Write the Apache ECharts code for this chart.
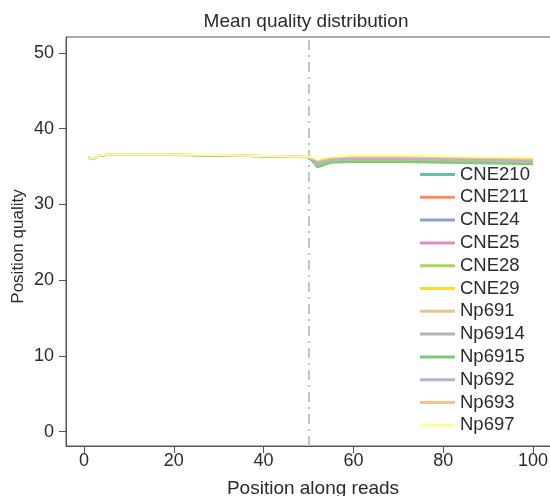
<!DOCTYPE html>
<html>
<head>
<meta charset="utf-8">
<script src="https://cdn.jsdelivr.net/npm/echarts@6/dist/echarts.min.js"></script>
<style>
  html, body { margin: 0; padding: 0; background: #fff; }
  #chart { width: 550px; height: 496px; }
</style>
</head>
<body>
<div id="chart"></div>
<script>
const positions = [1, 2, 3, 5, 10, 20, 30, 40, 50, 51, 52, 53, 55, 60, 70, 80, 90, 100];
const xTicks = [0, 20, 40, 60, 80, 100];
const yTicks = [0, 10, 20, 30, 40, 50];

const sampleNames = ["CNE210", "CNE211", "CNE24", "CNE25", "CNE28", "CNE29",
  "Np691", "Np6914", "Np6915", "Np692", "Np693", "Np697"];
const sampleColors = ["#66C2A5", "#FC8D62", "#8DA0CB", "#E78AC3", "#A6D854", "#FFD92F",
  "#E5C494", "#B3B3B3", "#7FC97F", "#BEAED4", "#FDC086", "#FFFF99"];

const CNE210 = [36.18, 35.98, 36.38, 36.53, 36.58, 36.53, 36.46, 36.35, 36.23, 35.7, 35.1, 35.3, 35.65, 35.75, 35.75, 35.65, 35.55, 35.45];
const CNE211 = [36.22, 36.02, 36.42, 36.57, 36.62, 36.57, 36.5, 36.39, 36.27, 35.95, 35.55, 35.75, 36.0, 36.15, 36.15, 36.05, 35.95, 35.85];
const CNE24  = [36.19, 35.99, 36.39, 36.54, 36.59, 36.54, 36.47, 36.36, 36.24, 35.8, 35.3, 35.5, 35.8, 35.95, 35.95, 35.85, 35.75, 35.65];
const CNE25  = [36.21, 36.01, 36.41, 36.56, 36.61, 36.56, 36.49, 36.38, 36.26, 35.9, 35.5, 35.7, 35.95, 36.1, 36.1, 36.0, 35.9, 35.8];
const CNE28  = [36.19, 35.99, 36.39, 36.54, 36.59, 36.54, 36.47, 36.36, 36.24, 35.75, 35.2, 35.4, 35.7, 35.85, 35.85, 35.75, 35.65, 35.55];
const CNE29  = [36.22, 36.02, 36.42, 36.57, 36.62, 36.57, 36.5, 36.39, 36.27, 36.05, 35.7, 35.9, 36.1, 36.25, 36.25, 36.15, 36.05, 35.95];
const Np691  = [36.21, 36.01, 36.41, 36.56, 36.61, 36.56, 36.49, 36.38, 36.26, 36.0, 35.6, 35.8, 36.05, 36.2, 36.2, 36.1, 36.0, 35.9];
const Np6914 = [36.2, 36.0, 36.4, 36.55, 36.6, 36.55, 36.48, 36.37, 36.25, 35.85, 35.4, 35.6, 35.85, 36.0, 36.0, 35.9, 35.8, 35.7];
const Np6915 = [36.17, 35.97, 36.37, 36.52, 36.57, 36.52, 36.45, 36.34, 36.22, 35.6, 34.9, 35.1, 35.5, 35.6, 35.6, 35.5, 35.4, 35.3];
const Np692  = [36.2, 36.0, 36.4, 36.55, 36.6, 36.55, 36.48, 36.37, 36.25, 35.88, 35.45, 35.65, 35.9, 36.05, 36.05, 35.95, 35.85, 35.75];
const Np693  = [36.22, 36.02, 36.42, 36.57, 36.62, 36.57, 36.5, 36.39, 36.27, 36.1, 35.8, 36.0, 36.2, 36.35, 36.35, 36.25, 36.15, 36.05];
const Np697  = [36.23, 36.03, 36.43, 36.59, 36.63, 36.58, 36.51, 36.4, 36.28, 36.15, 35.9, 36.1, 36.3, 36.45, 36.45, 36.35, 36.25, 36.2];

const sampleValues = [CNE210, CNE211, CNE24, CNE25, CNE28, CNE29, Np691, Np6914, Np6915, Np692, Np693, Np697];

const FONT = "Liberation Sans, Arial, sans-serif";
const AXIS_COLOR = "#555";
const TEXT_COLOR = "#2b2b2b";

const chart = echarts.init(document.getElementById("chart"));

const series = sampleNames.map((name, i) => {
  const s = {
    name: name,
    type: "line",
    symbol: "none",
    data: positions.map((p, k) => [p, sampleValues[i][k]]),
    lineStyle: { width: 2, color: sampleColors[i] },
    itemStyle: { color: sampleColors[i] },
    emphasis: { disabled: true },
    z: 2 + i
  };
  if (i === 0) {
    // read 1 / read 2 boundary
    s.markLine = {
      silent: true,
      symbol: "none",
      label: { show: false },
      lineStyle: { color: "#c4c4c4", width: 2, type: [10, 5, 2, 5] },
      data: [{ xAxis: 50 }],
      z: 1
    };
  }
  return s;
});

const option = {
  backgroundColor: "#fff",
  animation: false,
  textStyle: { fontFamily: FONT },
  title: {
    text: "Mean quality distribution",
    left: 301,
    textAlign: "center",
    top: 7,
    textStyle: { fontFamily: FONT, fontSize: 19, fontWeight: "normal", color: TEXT_COLOR }
  },
  legend: {
    orient: "vertical",
    left: 420,
    top: 165,
    padding: 0,
    icon: "rect",
    itemWidth: 35,
    itemHeight: 3,
    itemGap: 3.8,
    textStyle: { fontFamily: FONT, fontSize: 18.5, color: TEXT_COLOR },
    data: sampleNames
  },
  grid: {
    left: 66,
    top: 37,
    right: -10,
    bottom: 50,
    show: true,
    borderColor: AXIS_COLOR,
    borderWidth: 1,
    outerBoundsMode: "none",
    containLabel: false
  },
  xAxis: {
    type: "value",
    min: -4,
    max: 106,
    name: "Position along reads",
    nameLocation: "middle",
    nameGap: 33,
    nameMoveOverlap: false,
    nameTextStyle: { fontFamily: FONT, fontSize: 19, color: TEXT_COLOR },
    axisLine: { show: true, onZero: false, lineStyle: { color: AXIS_COLOR, width: 1 } },
    axisTick: { show: true, length: 7, lineStyle: { color: AXIS_COLOR }, customValues: xTicks },
    axisLabel: { fontFamily: FONT, fontSize: 18, color: TEXT_COLOR, margin: 6, customValues: xTicks },
    splitLine: { show: false }
  },
  yAxis: {
    type: "value",
    min: -1.9,
    max: 52.1,
    name: "Position quality",
    nameLocation: "middle",
    nameGap: 39,
    nameMoveOverlap: false,
    nameTextStyle: { fontFamily: FONT, fontSize: 17, color: TEXT_COLOR, padding: [0, 10, 0, 0] },
    axisLine: { show: true, onZero: false, lineStyle: { color: AXIS_COLOR, width: 1 } },
    axisTick: { show: true, length: 7, lineStyle: { color: AXIS_COLOR }, customValues: yTicks },
    axisLabel: { fontFamily: FONT, fontSize: 18, color: TEXT_COLOR, margin: 12, customValues: yTicks },
    splitLine: { show: false }
  },
  series: series
};

chart.setOption(option);
</script>
</body>
</html>
